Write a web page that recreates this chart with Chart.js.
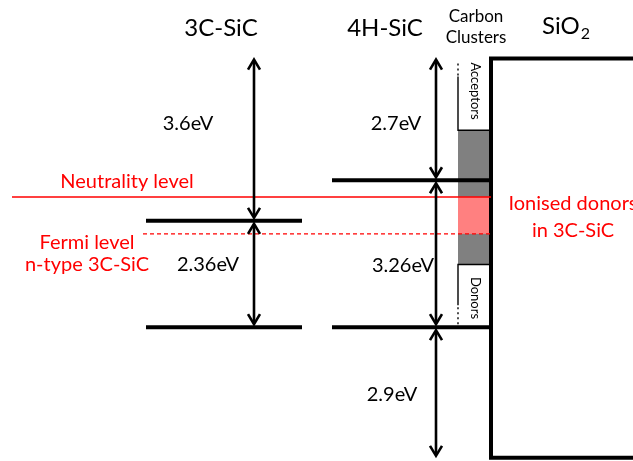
<!DOCTYPE html>
<html>
<head>
<meta charset="utf-8">
<script src="https://cdn.jsdelivr.net/npm/chart.js@4/dist/chart.umd.min.js"></script>
<style>
  html, body { margin: 0; padding: 0; background: #fff; overflow: hidden; }
  canvas { display: block; }
</style>
</head>
<body>
<canvas id="bands" width="633" height="461"></canvas>
<script>
// Band alignment of 3C-SiC and 4H-SiC against SiO2.
// Energies in eV, measured from the SiO2 valence band (= 0).
const materials = ['3C-SiC', '4H-SiC'];
const bandGapEV = [2.36, 3.26];
const cbOffsetEV = [3.6, 2.7];          // conduction band -> SiO2 conduction band
const vbOffsetEV = [null, 2.9];         // SiO2 valence band -> 4H-SiC valence band
const levelNames = ['Neutrality level', 'Fermi level'];
const levelEV = [5.79, 4.97];           // charge neutrality level, Fermi level of n-type 3C-SiC
const clusterEdgesEV = [7.27, 4.29];    // upper / lower edge of the carbon-cluster state band
const clusterStateNames = ['Acceptors', 'Donors'];

// Derived band edges
const oxideCB = vbOffsetEV[1] + bandGapEV[1] + cbOffsetEV[1];
const cbEV = cbOffsetEV.map(o => oxideCB - o);
const vbEV = cbEV.map((c, i) => c - bandGapEV[i]);
const eV = v => `${v}eV`;

// Horizontal layout (x scale runs 0..633)
const layout = {
  bandX: [[146, 302], [332, 491]],
  arrowX: [254, 436],
  titleX: [221, 385],
  neutralityX: [12, 491],
  fermiX: [143, 491],
  clusterX: [458, 491],
  oxideX: 491
};

const FONT = 'Lato, "Liberation Sans", sans-serif';
const RED = '#ff0000';

const seg = (x0, x1, e) => [{ x: x0, y: e }, { x: x1, y: e }];

const datasets = [
  { data: seg(layout.neutralityX[0], layout.neutralityX[1], levelEV[0]), borderColor: RED, borderWidth: 1.4 },
  { data: seg(layout.fermiX[0], layout.fermiX[1], levelEV[1]), borderColor: RED, borderWidth: 1.4, borderDash: [4, 3] },
  ...materials.flatMap((m, i) => [
    { data: seg(layout.bandX[i][0], layout.bandX[i][1], cbEV[i]), borderColor: '#000', borderWidth: 4 },
    { data: seg(layout.bandX[i][0], layout.bandX[i][1], vbEV[i]), borderColor: '#000', borderWidth: 4 }
  ]),
  {
    data: [{ x: 650, y: oxideCB }, { x: layout.oxideX, y: oxideCB }, { x: layout.oxideX, y: 0 }, { x: 650, y: 0 }],
    borderColor: '#000', borderWidth: 4, borderJoinStyle: 'miter'
  }
];

function head(ctx, x, y, dir) {
  // dir = 1: tip points up, dir = -1: tip points down
  ctx.beginPath();
  ctx.moveTo(x - 6, y + dir * 10);
  ctx.lineTo(x, y);
  ctx.lineTo(x + 6, y + dir * 10);
  ctx.stroke();
}

function arrow(ctx, x, yTop, yBot) {
  ctx.beginPath();
  ctx.moveTo(x, yTop + 1);
  ctx.lineTo(x, yBot - 1);
  ctx.stroke();
  head(ctx, x, yTop, 1);
  head(ctx, x, yBot, -1);
}

function text(ctx, str, x, y, size, color, align) {
  ctx.font = `${size}px ${FONT}`;
  ctx.fillStyle = color;
  ctx.textAlign = align || 'center';
  ctx.textBaseline = 'alphabetic';
  ctx.fillText(str, x, y);
}

const clusterPlugin = {
  id: 'clusterStates',
  beforeDatasetsDraw(chart) {
    const { ctx, scales: { x, y } } = chart;
    const x0 = x.getPixelForValue(layout.clusterX[0]);
    const x1 = x.getPixelForValue(layout.clusterX[1]);
    const yOx = y.getPixelForValue(oxideCB);
    const yA = y.getPixelForValue(clusterEdgesEV[0]);
    const yD = y.getPixelForValue(clusterEdgesEV[1]);
    const yVB = y.getPixelForValue(vbEV[1]);
    const yN = y.getPixelForValue(levelEV[0]);
    const yF = y.getPixelForValue(levelEV[1]);
    ctx.save();
    // cluster state band and the ionised-donor window
    ctx.fillStyle = '#808080';
    ctx.fillRect(x0, yA, x1 - x0, yD - yA);
    ctx.fillStyle = '#ff8080';
    ctx.fillRect(x0, yN, x1 - x0, yF - yN);

    ctx.strokeStyle = '#000';
    ctx.lineWidth = 1.4;
    // acceptor box
    ctx.beginPath();
    ctx.moveTo(x1, yA); ctx.lineTo(x0, yA); ctx.lineTo(x0, yOx + 18);
    ctx.stroke();
    ctx.setLineDash([2, 3]);
    ctx.beginPath(); ctx.moveTo(x0, yOx + 17); ctx.lineTo(x0, yOx + 3); ctx.stroke();
    ctx.setLineDash([]);
    // donor box
    ctx.beginPath();
    ctx.moveTo(x1, yD); ctx.lineTo(x0, yD); ctx.lineTo(x0, yVB - 22);
    ctx.stroke();
    ctx.setLineDash([2, 3]);
    ctx.beginPath(); ctx.moveTo(x0, yVB - 20); ctx.lineTo(x0, yVB - 2); ctx.stroke();
    ctx.setLineDash([]);

    // rotated state labels
    const cx = (x0 + x1) / 2 + 1;
    [[clusterStateNames[0], 91], [clusterStateNames[1], 298]].forEach(([s, cy]) => {
      ctx.save();
      ctx.translate(cx, cy);
      ctx.rotate(Math.PI / 2);
      ctx.font = `13px ${FONT}`;
      ctx.fillStyle = '#000';
      ctx.textAlign = 'center';
      ctx.textBaseline = 'middle';
      ctx.fillText(s, 0, 0);
      ctx.restore();
    });
    ctx.restore();
  },
  afterDatasetsDraw(chart) {
    const { ctx, scales: { x, y } } = chart;
    ctx.save();
    ctx.strokeStyle = '#000';
    ctx.lineWidth = 2.6;
    ctx.lineJoin = 'miter';
    ctx.lineCap = 'butt';
    const yOx = y.getPixelForValue(oxideCB);
    const yOxV = y.getPixelForValue(0);
    materials.forEach((m, i) => {
      const ax = x.getPixelForValue(layout.arrowX[i]);
      const yc = y.getPixelForValue(cbEV[i]);
      const yv = y.getPixelForValue(vbEV[i]);
      arrow(ctx, ax, yOx + 1, yc - 3);
      arrow(ctx, ax, yc + 3, yv - 3);
      if (vbOffsetEV[i] != null) arrow(ctx, ax, yv + 3, yOxV - 2);
    });

    // titles
    materials.forEach((m, i) => text(ctx, m, x.getPixelForValue(layout.titleX[i]), 36, 24, '#000'));
    text(ctx, 'Carbon', 476, 22, 17, '#000');
    text(ctx, 'Clusters', 476, 43, 17, '#000');
    text(ctx, 'SiO', 542, 34, 24, '#000', 'left');
    ctx.font = `24px ${FONT}`;
    const w = ctx.measureText('SiO').width;
    text(ctx, '2', 542 + w + 1, 39, 16, '#000', 'left');

    // energy differences
    text(ctx, eV(cbOffsetEV[0]), 188, 130, 20, '#000');
    text(ctx, eV(cbOffsetEV[1]), 396, 130, 20, '#000');
    text(ctx, eV(bandGapEV[0]), 208, 271, 20, '#000');
    text(ctx, eV(bandGapEV[1]), 403, 272, 20, '#000');
    text(ctx, eV(vbOffsetEV[1]), 392, 401, 20, '#000');

    // levels
    text(ctx, levelNames[0], 127, 188, 20, RED);
    text(ctx, levelNames[1], 87, 249, 20, RED);
    text(ctx, 'n-type ' + materials[0], 87, 271, 20, RED);
    text(ctx, 'Ionised donors', 573, 210, 20, RED);
    text(ctx, 'in ' + materials[0], 573, 237, 20, RED);
    ctx.restore();
  }
};

new Chart(document.getElementById('bands'), {
  type: 'scatter',
  data: { datasets },
  options: {
    responsive: false,
    animation: false,
    layout: { padding: 0 },
    showLine: true,
    clip: false,
    elements: { point: { radius: 0, hoverRadius: 0 }, line: { tension: 0, fill: false, borderCapStyle: 'butt' } },
    scales: {
      x: { type: 'linear', min: 0, max: 633, display: false },
      y: { type: 'linear', min: -0.07, max: 10.16, display: false }
    },
    plugins: { legend: { display: false }, tooltip: { enabled: false }, title: { display: false } },
    events: []
  },
  plugins: [clusterPlugin]
});
</script>
</body>
</html>
